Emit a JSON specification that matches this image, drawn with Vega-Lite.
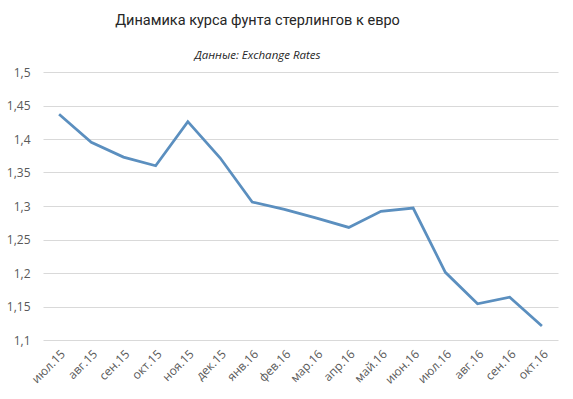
{
  "$schema": "https://vega.github.io/schema/vega-lite/v6.json",
  "width": 515,
  "height": 268,
  "autosize": {"type": "none"},
  "padding": {"left": 43, "top": 72, "right": 15, "bottom": 59},
  "background": "white",
  "title": {
    "text": "Динамика курса фунта стерлингов к евро",
    "subtitle": "Данные: Exchange Rates",
    "font": "Roboto",
    "fontSize": 14.5,
    "fontWeight": "normal",
    "color": "#262626",
    "subtitleFont": "Open Sans",
    "subtitleFontSize": 11.5,
    "subtitleFontStyle": "italic",
    "subtitleColor": "#262626",
    "subtitlePadding": 21,
    "anchor": "middle",
    "dx": -43,
    "offset": 4
  },
  "data": {
    "values": [
      {"month": "июл.15", "rate": 1.437},
      {"month": "авг.15", "rate": 1.395},
      {"month": "сен.15", "rate": 1.373},
      {"month": "окт.15", "rate": 1.360},
      {"month": "ноя.15", "rate": 1.426},
      {"month": "дек.15", "rate": 1.372},
      {"month": "янв.16", "rate": 1.306},
      {"month": "фев.16", "rate": 1.295},
      {"month": "мар.16", "rate": 1.282},
      {"month": "апр.16", "rate": 1.268},
      {"month": "май.16", "rate": 1.292},
      {"month": "июн.16", "rate": 1.297},
      {"month": "июл.16", "rate": 1.201},
      {"month": "авг.16", "rate": 1.154},
      {"month": "сен.16", "rate": 1.164},
      {"month": "окт.16", "rate": 1.121}
    ]
  },
  "mark": {"type": "line", "color": "#5b8fbf", "strokeWidth": 2.75, "strokeJoin": "miter"},
  "encoding": {
    "x": {
      "field": "month",
      "type": "ordinal",
      "sort": null,
      "title": null,
      "scale": {"paddingInner": 0, "paddingOuter": 0.5},
      "axis": {
        "domain": false,
        "ticks": false,
        "grid": false,
        "labelAngle": -45,
        "labelFont": "Open Sans",
        "labelFontSize": 12,
        "labelColor": "#595959",
        "labelPadding": 8
      }
    },
    "y": {
      "field": "rate",
      "type": "quantitative",
      "title": null,
      "scale": {"domain": [1.1, 1.5], "zero": false, "nice": false},
      "axis": {
        "values": [1.1, 1.15, 1.2, 1.25, 1.3, 1.35, 1.4, 1.45, 1.5],
        "labelExpr": "replace(format(datum.value, '.2~f'), '.', ',')",
        "domain": false,
        "ticks": false,
        "grid": true,
        "gridColor": "#d9d9d9",
        "gridWidth": 1,
        "labelFont": "Open Sans",
        "labelFontSize": 12,
        "labelColor": "#595959",
        "labelPadding": 13
      }
    }
  },
  "config": {"view": {"stroke": null}}
}
